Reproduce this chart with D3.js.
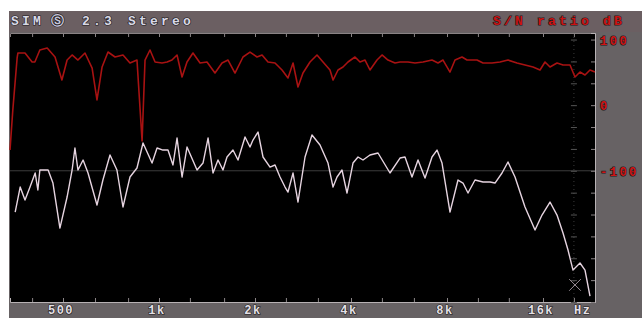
<!DOCTYPE html>
<html>
<head>
<meta charset="utf-8">
<script src="https://cdn.jsdelivr.net/npm/d3@7"></script>
<style>
  body { margin: 0; background: #fff; }
  svg { display: block; }
  text { font-family: "Liberation Mono", "DejaVu Sans Mono", monospace; font-weight: bold; }
</style>
</head>
<body>
<svg width="642" height="318"></svg>
<script>
// S/N ratio curve (red)
var redFreq = [341,348,359,361,380,400,408,423,446,472,496,515,534,557,586,617,639,663,692,728,
  771,811,853,885,904,937,972,1022,1060,1098,1139,1181,1224,1278,1345,1414,1498,1576,1646,1731,
  1834,1929,2029,2104,2197,2311,2431,2538,2632,2728,2828,2975,3129,3268,3437,3513,3642,3776,3914,4117,
  4269,4426,4588,4826,5004,5225,5496,5698,6037,6350,6727,7179,7497,7773,8175,8476,8915,9244,9935,10375,
  11072,11730,12426,13262,14050,14886,15658,16234,16830,17703,18487,19444,20160,20899,21668,22464,23290];
var redDb = [-68.4,-7.4,71.9,79.5,79.5,65.8,65.8,84.1,87.1,73.4,38.3,68.8,76.5,68.8,79.5,56.6,7.9,58.2,81.0,73.4,
  76.5,64.3,68.8,-54.6,68.8,84.1,65.8,64.3,65.8,68.8,76.5,42.9,65.8,79.5,64.3,65.8,49.0,64.3,68.8,49.0,
  73.4,81.0,73.4,76.5,65.8,64.3,53.6,41.4,64.3,27.7,49.0,65.8,76.5,65.8,53.6,38.3,53.6,58.2,65.8,73.4,
  65.8,68.8,53.6,68.8,76.5,68.8,64.3,65.8,65.8,64.3,65.8,68.8,64.3,68.8,50.5,68.8,73.4,68.8,68.8,64.3,
  64.3,65.8,68.8,64.3,61.2,58.2,53.6,65.8,58.2,64.3,61.2,61.2,42.9,50.5,46.0,53.6,50.5];

// second curve (white)
var whiteFreq = [354,367,380,394,409,417,423,449,465,489,515,534,545,557,578,599,639,667,702,738,
  771,811,853,891,951,986,1029,1067,1106,1139,1181,1224,1316,1374,1425,1477,1531,1587,1634,1706,
  1769,1861,1929,1971,2044,2119,2229,2311,2396,2484,2538,2632,2728,2870,3018,3198,3388,3513,3616,3748,
  3886,4058,4208,4362,4588,4861,5301,5698,5907,6214,6489,6825,7179,7443,7717,8175,8661,8980,9310,9793,
  10375,10913,11314,11901,12426,13072,14050,15102,15885,16830,17703,18487,19165,19870,20899,21668,22464];
var whiteDb = [-162.9,-124.8,-144.6,-124.8,-103.4,-129.3,-98.8,-98.8,-118.7,-187.3,-140.0,-98.8,-65.3,-98.8,-83.6,-103.4,-152.2,-114.1,-76.0,-98.8,
  -155.2,-109.5,-95.8,-57.7,-88.2,-65.3,-68.4,-68.4,-91.2,-50.1,-109.5,-63.8,-98.8,-88.2,-50.1,-103.4,-83.6,-98.8,-79.0,-68.4,
  -83.6,-48.5,-63.8,-53.1,-40.9,-79.0,-94.3,-91.2,-109.5,-124.8,-132.4,-103.4,-147.6,-79.0,-45.5,-60.7,-88.2,-124.8,-109.5,-98.8,
  -133.9,-88.2,-79.0,-83.6,-76.0,-72.9,-103.4,-80.6,-79.0,-109.5,-83.6,-111.0,-79.0,-68.4,-88.2,-162.9,-114.1,-118.7,-133.9,-114.1,
  -117.1,-117.1,-118.7,-103.4,-86.6,-109.5,-155.2,-190.3,-167.5,-147.6,-167.5,-194.9,-220.8,-251.3,-240.6,-251.3,-290.9];

var markerFreq = [20160], markerDb = [-274];

var xTicks = [400,500,630,800,1000,1250,1600,2000,2500,3150,4000,5000,6300,8000,10000,12500,16000,20000];
var xLabelFreq = [500,1000,2000,4000,8000,16000];
var xLabels = ["500","1k","2k","4k","8k","16k"];
var yLabelDb = [100,0,-100];
var yLabels = ["100","0","-100"];

var svg = d3.select("svg"),
    plot = {left: 10, top: 33, right: 595, bottom: 302};

var x = d3.scaleLog().domain([341, 23290]).range([plot.left, plot.right]),
    y = d3.scaleLinear().domain([-300, 110]).range([plot.bottom, plot.top]);

// frame
svg.append("rect").attr("x", 9).attr("y", 11).attr("width", 633).attr("height", 307).attr("fill", "#676264");
svg.append("rect").attr("x", 9).attr("y", 11).attr("width", 633).attr("height", 21).attr("fill", "#6b5f62");
svg.append("rect")
    .attr("x", plot.left).attr("y", plot.top)
    .attr("width", plot.right - plot.left).attr("height", plot.bottom - plot.top)
    .attr("fill", "#000");

// faint grid: -100 dB and 20 kHz
svg.append("line")
    .attr("x1", plot.left).attr("x2", plot.right)
    .attr("y1", y(-100)).attr("y2", y(-100))
    .attr("stroke", "#3c3c3c").attr("stroke-width", 1);
svg.append("line")
    .attr("x1", x(20000)).attr("x2", x(20000))
    .attr("y1", plot.top).attr("y2", plot.bottom)
    .attr("stroke", "#3a3a3a").attr("stroke-dasharray", "1,3");

// ticks
var yTickVals = d3.range(-9, 4).map(function(i) { return i * 100 / 3; });

svg.append("g")
    .attr("transform", "translate(0," + plot.bottom + ")")
    .call(d3.axisBottom(x).tickValues(xTicks).tickSize(-4).tickFormat(""))
    .call(function(g) { g.select(".domain").attr("stroke", "#b8b2b4"); g.selectAll(".tick line").attr("stroke", "#8a8486"); });

svg.append("g")
    .attr("transform", "translate(0," + plot.top + ")")
    .call(d3.axisTop(x).tickValues(xTicks).tickSize(-4).tickFormat(""))
    .call(function(g) { g.select(".domain").attr("stroke", "#8a8284"); g.selectAll(".tick line").attr("stroke", "#8a8486"); });

svg.append("g")
    .attr("transform", "translate(" + plot.right + ",0)")
    .call(d3.axisRight(y).tickValues(yTickVals).tickSize(-4).tickFormat(""))
    .call(function(g) { g.select(".domain").attr("stroke", "#b8b2b4"); g.selectAll(".tick line").attr("stroke", "#8a8486"); });

svg.append("g")
    .attr("transform", "translate(" + (x(20000) + 3) + ",0)")
    .call(d3.axisRight(y).tickValues(yTickVals).tickSize(-6).tickFormat(""))
    .call(function(g) { g.select(".domain").remove(); g.selectAll(".tick line").attr("stroke", "#555"); });

// curves
var line = d3.line()
    .x(function(d) { return x(d[0]); })
    .y(function(d) { return y(d[1]); });

svg.append("path")
    .datum(d3.zip(redFreq, redDb))
    .attr("fill", "none")
    .attr("stroke", "#a81212")
    .attr("stroke-width", 1.6)
    .attr("stroke-linejoin", "round")
    .attr("d", line);

svg.append("path")
    .datum(d3.zip(whiteFreq, whiteDb))
    .attr("fill", "none")
    .attr("stroke", "#e6d4e0")
    .attr("stroke-width", 1.4)
    .attr("stroke-linejoin", "round")
    .attr("d", line);

svg.selectAll(".marker")
    .data(d3.zip(markerFreq, markerDb))
    .enter().append("path")
      .attr("class", "marker")
      .attr("transform", function(d) { return "translate(" + x(d[0]) + "," + y(d[1]) + ")"; })
      .attr("d", d3.symbol(d3.symbolTimes, 90))
      .attr("fill", "none")
      .attr("stroke", "#9a8e96")
      .attr("stroke-width", 1);

// labels
function outlined(sel, fill) {
  return sel.attr("fill", fill)
      .attr("stroke", "#1e1a1c").attr("stroke-width", 1.2)
      .attr("paint-order", "stroke");
}

svg.selectAll(".xlab")
    .data(d3.zip(xLabelFreq, xLabels))
    .enter().append("text")
      .attr("class", "xlab")
      .attr("x", function(d) { return x(d[0]) - 2; })
      .attr("y", 314)
      .attr("text-anchor", "middle")
      .attr("font-size", 12)
      .attr("letter-spacing", 1.5)
      .text(function(d) { return d[1]; })
      .call(outlined, "#e4e0e6");

svg.append("text")
    .attr("x", 574).attr("y", 314)
    .attr("font-size", 12)
    .attr("letter-spacing", 1.5)
    .text("Hz")
    .call(outlined, "#e4e0e6");

svg.selectAll(".ylab")
    .data(d3.zip(yLabelDb, yLabels))
    .enter().append("text")
      .attr("class", "ylab")
      .attr("x", 600)
      .attr("y", function(d) { return y(d[0]) + 5; })
      .attr("font-size", 12)
      .attr("letter-spacing", 2.5)
      .text(function(d) { return d[1]; })
      .call(outlined, "#d01414");

// title bar
var title = svg.append("g").attr("font-size", 13).attr("letter-spacing", 3.2);
title.append("text").attr("x", 11).attr("y", 25).text("SIM").call(outlined, "#d8d8e6");
title.append("text").attr("x", 51).attr("y", 25).text("Ⓢ").call(outlined, "#c8c8dc");
title.append("text").attr("x", 82).attr("y", 25).text("2.3").call(outlined, "#d8d8e6");
title.append("text").attr("x", 128).attr("y", 25).text("Stereo").call(outlined, "#d8d8e6");
title.append("text").attr("x", 493).attr("y", 25).text("S/N ratio dB").call(outlined, "#cc1212");
</script>
</body>
</html>
